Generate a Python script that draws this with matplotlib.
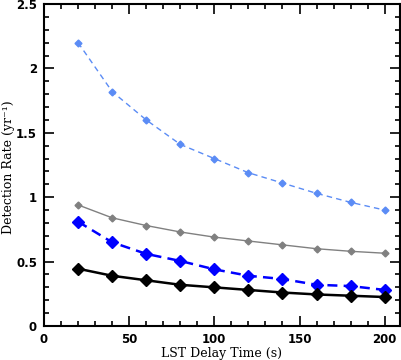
import matplotlib
matplotlib.use("Agg")
import matplotlib.pyplot as plt
from matplotlib.ticker import MultipleLocator

# LST delay time (s)
delay = [20, 40, 60, 80, 100, 120, 140, 160, 180, 200]

# detection rates (yr^-1)
rate_lightblue = [2.20, 1.82, 1.60, 1.41, 1.30, 1.19, 1.11, 1.03, 0.96, 0.90]
rate_gray = [0.94, 0.84, 0.78, 0.73, 0.69, 0.66, 0.63, 0.60, 0.58, 0.565]
rate_blue = [0.81, 0.65, 0.56, 0.505, 0.44, 0.39, 0.365, 0.32, 0.31, 0.28]
rate_black = [0.445, 0.39, 0.355, 0.32, 0.30, 0.28, 0.26, 0.245, 0.235, 0.225]

xticks = [0, 50, 100, 150, 200]
yticks = [0, 0.5, 1, 1.5, 2, 2.5]
yticklabels = ["0", "0.5", "1", "1.5", "2", "2.5"]

fig = plt.figure(figsize=(4.02, 3.6), dpi=100)
ax = fig.add_axes([44/402, 1-326/360, 356/402, 322/360])

ax.plot(delay, rate_lightblue, color="#5b8cf5", ls=(0, (4, 3)), lw=1.0,
        marker="D", ms=3.5, mec="#5b8cf5")
ax.plot(delay, rate_gray, color="#808080", ls="-", lw=1.0,
        marker="D", ms=3.5, mec="#808080")
ax.plot(delay, rate_blue, color="#0000ff", ls=(0, (4, 2.5)), lw=1.8,
        marker="D", ms=6, mec="#0000ff")
ax.plot(delay, rate_black, color="black", ls="-", lw=1.8,
        marker="D", ms=6, mec="black")

ax.set_xlim(0, 209)
ax.set_ylim(0, 2.5)
ax.set_xticks(xticks)
ax.set_xticklabels([str(v) for v in xticks])
ax.set_yticks(yticks)
ax.set_yticklabels(yticklabels)
ax.xaxis.set_minor_locator(MultipleLocator(10))
ax.yaxis.set_minor_locator(MultipleLocator(0.1))
ax.tick_params(which="both", direction="in", top=True, right=True, width=1.2)
ax.tick_params(which="major", length=7, pad=5)
ax.tick_params(which="minor", length=3.5)
for lab in ax.get_xticklabels() + ax.get_yticklabels():
    lab.set_fontfamily("DejaVu Sans")
    lab.set_fontweight("bold")
    lab.set_fontsize(8.5)
for s in ax.spines.values():
    s.set_linewidth(1.5)

ax.set_xlabel("LST Delay Time (s)", fontfamily="DejaVu Serif", fontsize=9,
              va="top")
ax.xaxis.set_label_coords(0.5, -0.064)
ax.set_ylabel("Detection Rate (yr⁻¹)", fontfamily="DejaVu Serif", fontsize=9,
              va="center")
ax.yaxis.set_label_coords(-0.1, 0.494)

fig.savefig("out.png", dpi=100)
